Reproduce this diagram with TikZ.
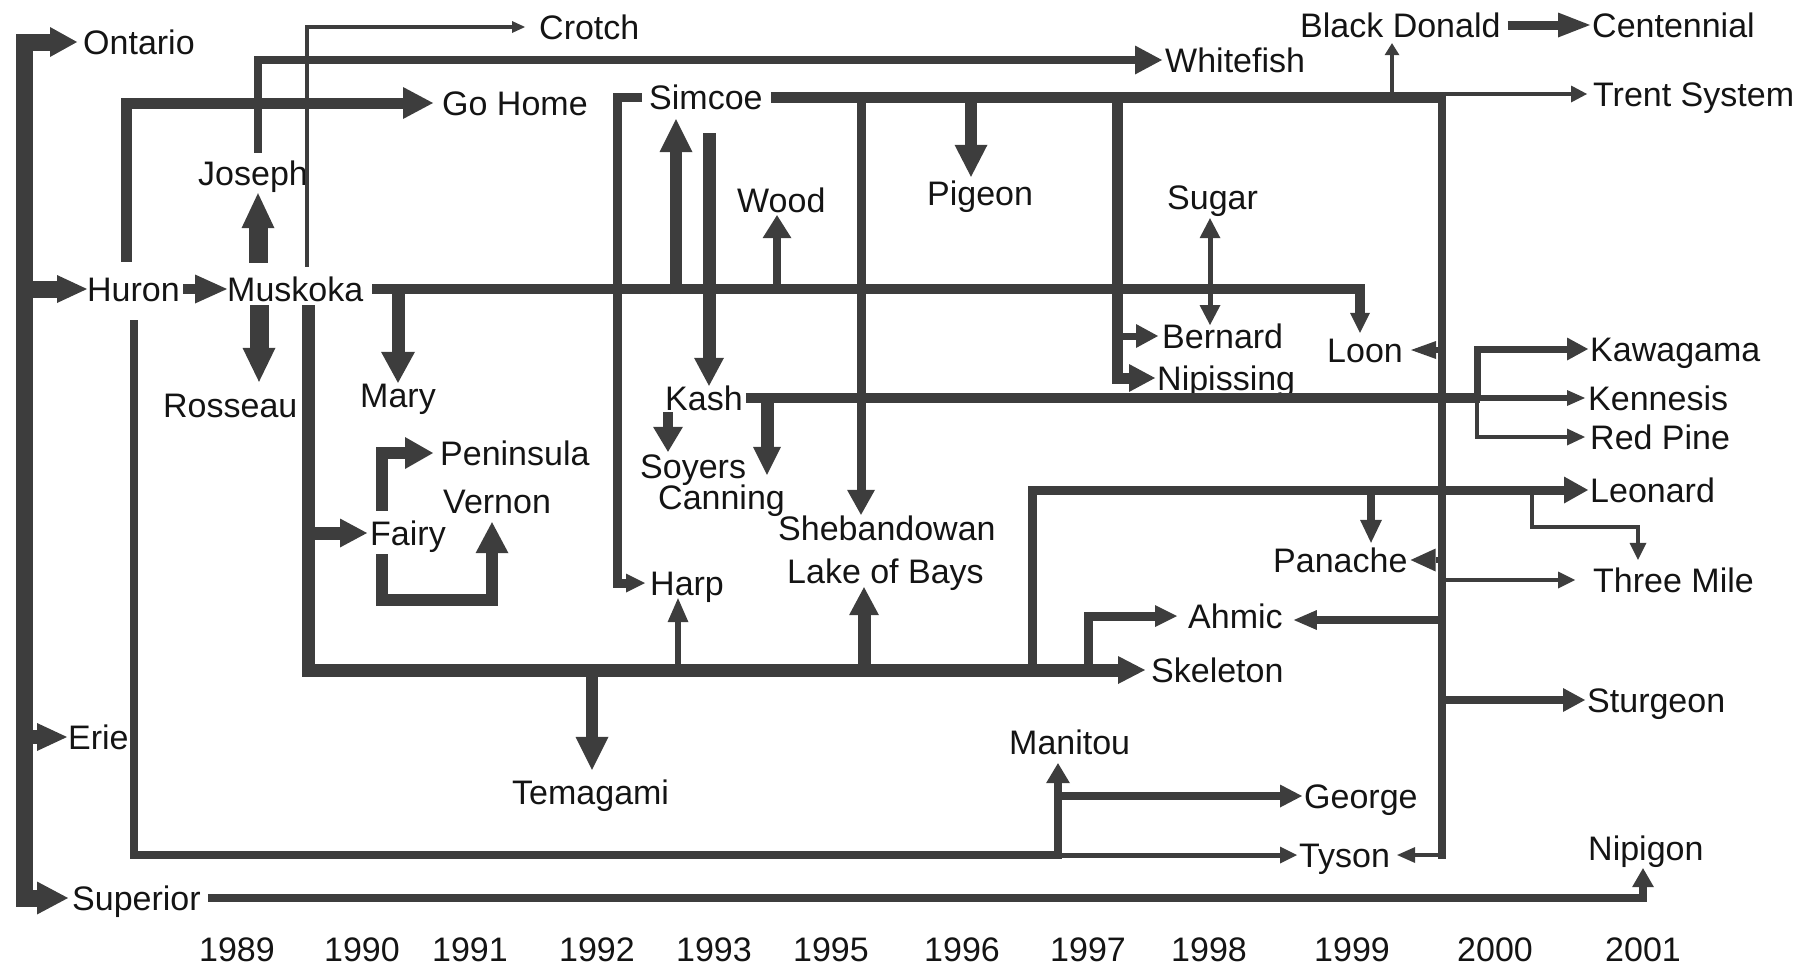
\documentclass[tikz,border=0pt]{standalone}
\usepackage{fontspec}
\setmainfont{Liberation Sans}
\usetikzlibrary{arrows.meta}
\definecolor{ink}{gray}{0.24}
\definecolor{txt}{gray}{0.08}
\tikzset{
  lbl/.style={font=\fontsize{34}{40}\selectfont, text=txt, inner sep=0pt, text height=24pt, text depth=0pt, anchor=west},
  yr/.style={font=\fontsize{34}{40}\selectfont, text=txt, inner sep=0pt, text height=24pt, text depth=0pt, anchor=center},
  ln/.style={draw=ink, line width=#1pt, line cap=butt, line join=miter},
  ah/.style 2 args={-{Triangle[length=#1pt,width=#2pt,line width=0pt]}},
}
\begin{document}
\begin{tikzpicture}[x=1pt,y=-1pt]
\useasboundingbox (0,0) rectangle (1818,969);

% ---------- labels ----------
\node[lbl] (Ontario) at (83,42) {Ontario};
\node[lbl] (Crotch) at (539,27) {Crotch};
\node[lbl] (Whitefish) at (1165,60) {Whitefish};
\node[lbl] (BlackDonald) at (1300,25) {Black Donald};
\node[lbl] (Centennial) at (1592,25) {Centennial};
\node[lbl] (GoHome) at (442,103) {Go Home};
\node[lbl] (Simcoe) at (649,97) {Simcoe};
\node[lbl] (Trent) at (1593,94) {Trent System};
\node[lbl] (Joseph) at (198,173) {Joseph};
\node[lbl] (Wood) at (737,200) {Wood};
\node[lbl] (Pigeon) at (927,193) {Pigeon};
\node[lbl] (Sugar) at (1167,197) {Sugar};
\node[lbl] (Huron) at (87,289) {Huron};
\node[lbl] (Muskoka) at (227,289) {Muskoka};
\node[lbl] (Bernard) at (1162,336) {Bernard};
\node[lbl] (Loon) at (1327,350) {Loon};
\node[lbl] (Nipissing) at (1157,378) {Nipissing};
\node[lbl] (Rosseau) at (163,405) {Rosseau};
\node[lbl] (Mary) at (360,395) {Mary};
\node[lbl] (Kash) at (665,398) {Kash};
\node[lbl] (Kawagama) at (1590,349) {Kawagama};
\node[lbl] (Kennesis) at (1588,398) {Kennesis};
\node[lbl] (RedPine) at (1590,437) {Red Pine};
\node[lbl] (Peninsula) at (440,453) {Peninsula};
\node[lbl] (Vernon) at (443,501) {Vernon};
\node[lbl] (Soyers) at (640,466) {Soyers};
\node[lbl] (Canning) at (658,497) {Canning};
\node[lbl] (Leonard) at (1590,490) {Leonard};
\node[lbl] (Shebandowan) at (778,528) {Shebandowan};
\node[lbl] (Fairy) at (370,533) {Fairy};
\node[lbl] (LakeBays) at (787,571) {Lake of Bays};
\node[lbl] (Panache) at (1273,560) {Panache};
\node[lbl] (Harp) at (650,583) {Harp};
\node[lbl] (ThreeMile) at (1593,580) {Three Mile};
\node[lbl] (Ahmic) at (1188,616) {Ahmic};
\node[lbl] (Skeleton) at (1151,670) {Skeleton};
\node[lbl] (Sturgeon) at (1587,700) {Sturgeon};
\node[lbl] (Erie) at (68,737) {Erie};
\node[lbl] (Manitou) at (1009,742) {Manitou};
\node[lbl] (Temagami) at (512,792) {Temagami};
\node[lbl] (George) at (1304,796) {George};
\node[lbl] (Nipigon) at (1588,848) {Nipigon};
\node[lbl] (Tyson) at (1299,855) {Tyson};
\node[lbl] (Superior) at (72,898) {Superior};

\foreach \yy/\xx in {1989/237,1990/362,1991/470,1992/597,1993/714,1995/831,1996/962,1997/1088,1998/1209,1999/1352,2000/1495,2001/1643}
  \node[yr] (y\yy) at (\xx,949) {\yy};

% ---------- left trunk ----------
\draw[ln=17, {Triangle[length=27pt,width=30pt,line width=0pt]}-{Triangle[length=31pt,width=33pt,line width=0pt]}, shorten <=6pt, shorten >=4pt]
  (Ontario.west) -| (24,898) -- (Superior.west);
\draw[ln=17, ah={30}{28}] (24,289) -- (Huron.west);
\draw[ln=14, ah={30}{28}, shorten >=1pt] (24,737) -- (Erie.west);

% ---------- Huron ----------
\draw[ln=10, ah={32}{29}, shorten <=3pt] (Huron.east) -- (Muskoka.west);
\draw[ln=11, ah={30}{32}, shorten <=15pt, shorten >=9pt] (126,0 |- Huron.north) |- (GoHome.west);
\draw[ln=8, shorten <=19pt] (134,0 |- Huron.south) |- (1062,855);
\draw[ln=5, ah={17}{17}, shorten >=2pt] (1054,855) -- (Tyson.west);
\draw[ln=8, ah={20}{24}, shorten >=9pt] (1058,858) -- (1058,0 |- Manitou.south);
\draw[ln=8, ah={22}{23}, shorten >=2pt] (1058,0 |- George.west) -- (George.west);

% ---------- Muskoka ----------
\draw[ln=19, ah={35}{33}, shorten <=14pt, shorten >=8pt] (258,0 |- Muskoka.north) -- (258,0 |- Joseph.south);
\draw[ln=8, ah={27}{29}, shorten <=8pt, shorten >=3pt] (258,0 |- Joseph.north) |- (Whitefish.west);
\draw[ln=4.5, ah={13}{12}, shorten <=10pt, shorten >=14pt] (307,0 |- Muskoka.north) |- (Crotch.west);
\draw[ln=19, ah={34}{33}, shorten <=4pt, shorten >=11pt] (259,0 |- Muskoka.south) -- (259,0 |- Rosseau.north);

% Skeleton branch
\draw[ln=13, ah={27}{28}, shorten <=4pt, shorten >=6pt] (308,0 |- Muskoka.south) |- (Skeleton.west);
\draw[ln=13, ah={27}{29}, shorten >=3pt] (308,0 |- Fairy.west) -- (Fairy.west);
\draw[ln=12, ah={28}{32}, shorten <=10pt, shorten >=7pt] (382,0 |- Fairy.north) |- (Peninsula.west);
\draw[ln=12, ah={31}{33}, shorten <=9pt, shorten >=9pt] (382,0 |- Fairy.south) |- (492,600) -- (492,0 |- Vernon.south);
\draw[ln=12, ah={33}{33}, shorten >=10pt] (592,669) -- (592,0 |- Temagami.north);
\draw[ln=6, ah={24}{21}, shorten >=3pt] (678,669) -- (678,0 |- Harp.south);
\draw[ln=13, ah={28}{30}, shorten >=4pt] (864,669) -- (864,0 |- LakeBays.south);
\draw[ln=9, ah={24}{27}, shorten >=2pt] (1032,669) |- (Leonard.west);
\draw[ln=8, ah={23}{22}, shorten >=5pt] (1371,490) -- (1371,0 |- Panache.north);
\draw[ln=4, ah={17}{17}, shorten >=8pt] (1532,490) |- (1638,527) -- (1638,0 |- ThreeMile.north);
\draw[ln=9, ah={22}{22}, shorten >=11pt] (1088,669) |- (Ahmic.west);

% Main line
\draw[ln=10, ah={20}{20}, shorten <=9pt, shorten >=5pt] (Muskoka.east) -| (1360,0 |- Loon.north);
\draw[ln=13, ah={31}{34}] (398,284) -- (398,0 |- Mary.north);
\draw[ln=12, ah={33}{33}, shorten >=10pt] (676,294) -- (676,0 |- Simcoe.south);
\draw[ln=8, ah={23}{29}, shorten >=3pt] (777,289) -- (777,0 |- Wood.south);
\draw[ln=13, ah={28}{30}, shorten <=24pt] (709,0 |- Simcoe.south) -- (709,0 |- Kash.north);
\draw[ln=5, {Triangle[length=20pt,width=21pt,line width=0pt]}-{Triangle[length=20pt,width=21pt,line width=0pt]}, shorten <=9pt]
  (1210,0 |- Sugar.south) -- (1210,325);

% ---------- Simcoe ----------
\draw[ln=11, shorten <=8pt] (Simcoe.east) -- (1446,97);
\draw[ln=4, ah={16}{17}, shorten >=6pt] (1440,94) -- (Trent.west);
\draw[ln=4, ah={12}{15}, shorten >=6pt] (1392,97) -- (1392,0 |- BlackDonald.south);
\draw[ln=9, ah={32}{25}, shorten <=7pt, shorten >=2pt] (BlackDonald.east) -- (Centennial.west);
\draw[ln=12, ah={32}{33}, shorten >=4pt] (971,97) -- (971,0 |- Pigeon.north);
\draw[ln=9, ah={25}{28}, shorten >=1pt] (861,97) -- (861,0 |- Shebandowan.north);
\draw[ln=9, ah={19}{19}, shorten <=7pt, shorten >=5pt] (Simcoe.west) -| (617,0 |- Harp.west) -- (Harp.west);
\draw[ln=11, ah={26}{28}, shorten >=2pt] (1117,97) |- (Nipissing.west);
\draw[ln=7, ah={22}{24}, shorten >=4pt] (1117,0 |- Bernard.west) -- (Bernard.west);

% ---------- Kash ----------
\draw[ln=10, shorten <=3pt] (Kash.east) -- (1480,398);
\draw[ln=13, ah={28}{28}, shorten >=10pt] (767,393) -- (767,0 |- Canning.north);
\draw[ln=10, ah={25}{30}, shorten <=2pt, shorten >=2pt] (668,0 |- Kash.south) -- (668,0 |- Soyers.north);
\draw[ln=7, ah={21}{23}, shorten >=2pt] (1477,398) |- (Kawagama.west);
\draw[ln=6, ah={18}{16}, shorten >=3pt] (1477,398) -- (Kennesis.west);
\draw[ln=4, ah={18}{17}, shorten >=5pt] (1477,398) |- (RedPine.west);

% ---------- 2000 trunk ----------
\draw[ln=8] (1442,92) -- (1442,859);
\draw[ln=4, ah={18}{16}, shorten >=7pt] (1446,0 |- Tyson.east) -- (Tyson.east);
\draw[ln=6, ah={25}{18}, shorten >=8pt] (1442,0 |- Loon.east) -- (Loon.east);
\draw[ln=6, ah={25}{23}, shorten >=3pt] (1442,0 |- Panache.east) -- (Panache.east);
\draw[ln=8, ah={23}{20}, shorten >=11pt] (1442,620) -- (Ahmic.east |- 1442,620);
\draw[ln=4, ah={17}{17}, shorten >=18pt] (1442,0 |- ThreeMile.west) -- (ThreeMile.west);
\draw[ln=8, ah={22}{24}, shorten >=2pt] (1442,0 |- Sturgeon.west) -- (Sturgeon.west);

% ---------- Superior ----------
\draw[ln=8, ah={19}{22}, shorten <=7pt, shorten >=8pt] (Superior.east) -| (1643,0 |- Nipigon.south);
\end{tikzpicture}
\end{document}
